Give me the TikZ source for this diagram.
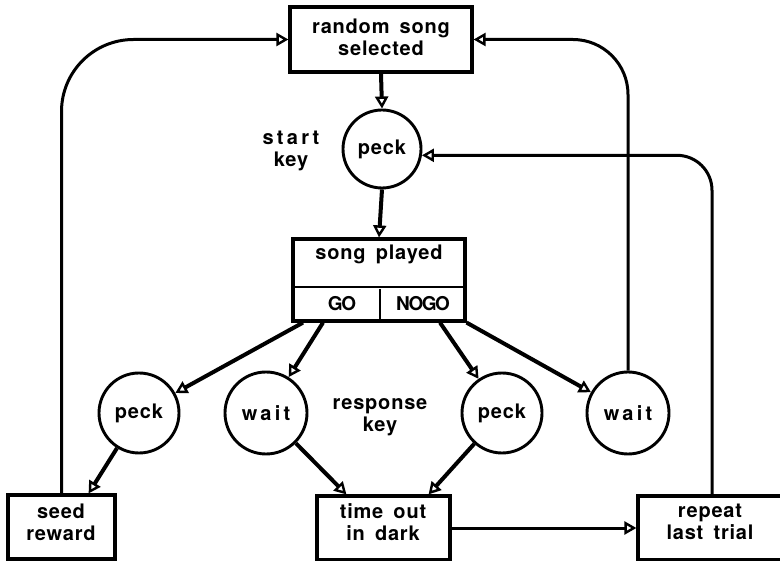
\documentclass[tikz,border=0pt]{standalone}
\usepackage{fontspec}
\setmainfont{TeX Gyre Heros}[LetterSpace=4,WordSpace=1.6]
\usetikzlibrary{arrows.meta,calc}
\newcommand\widelet{\addfontfeature{LetterSpace=16}}
\newcommand\tightlet{\addfontfeature{LetterSpace=-8}}
\begin{document}
\begin{tikzpicture}[x=1pt,y=-1pt,
  every node/.style={font=\bfseries\fontsize{20}{22}\selectfont, inner sep=0pt},
  box/.style={draw, line width=3.2pt, rectangle},
  state/.style={draw, circle, line width=2.9pt, minimum size=80pt},
  lbl/.style={align=center},
  small/.style={font=\bfseries\fontsize{19}{20}\selectfont\tightlet},
  tip/.style={-{Triangle[open,length=12pt,width=13pt,line width=2.4pt]}},
  flow/.style={tip, line width=4pt},
  back/.style={tip, line width=3pt},
]
\useasboundingbox (0,0) rectangle (780,561);

% top: song selection and start key
\node[box, minimum width=182pt, minimum height=65pt] (top) at (381,39.5) {};
\node[lbl] (toptxt) at (381,37) {random song\\selected};
\node[state, minimum size=78pt] (speck) at (382,149) {peck};
\node[lbl] (startkey) at (291,151) {{\widelet start}\\key};

% song played, split into GO / NOGO
\node[box, minimum width=172pt, minimum height=82pt] (song) at (379,280) {};
\draw[line width=2.6pt] ($(song.west)+(0,7)$) -- ($(song.east)+(0,7)$);
\draw[line width=2.6pt] ($(song.south)+(1,0)$) -- ++(0,-34);
\node (songtxt) at (379,254) {song played};
\node[small] (go) at (342,304) {GO};
\node[small] (nogo) at (423,304) {NOGO};

% responses on the response key
\node[state] (lpeck) at (139,413) {peck};
\node[state, minimum size=82pt] (lwait) at (266,413) {\widelet wait};
\node[state] (rpeck) at (502,413) {peck};
\node[state, minimum size=82pt] (rwait) at (628,413) {\widelet wait};
\node[lbl] (respkey) at (380,417) {response\\key};

% outcomes
\node[box, minimum width=107pt, minimum height=64pt] (seed) at (61.5,527) {};
\node[lbl] (seedtxt) at (61,522) {seed\\reward};
\node[box, minimum width=133pt, minimum height=64pt] (tout) at (383.5,528) {};
\node[lbl] (touttxt) at (383,522) {time out\\in dark};
\node[box, minimum width=144pt, minimum height=64pt] (rep) at (710,528) {};
\node[lbl] (reptxt) at (710,522) {repeat\\last trial};

% forward flow
\draw[flow] (top.south) -- (speck.north);
\draw[flow] (speck.south) -- (song.north);
\draw[flow] ($(song.south)+(-76,0)$) -- (lpeck);
\draw[flow] ($(song.south)+(-56,0)$) -- (lwait);
\draw[flow] ($(song.south)+(61,0)$) -- (rpeck);
\draw[flow] (song.south east) -- (rwait);
\draw[flow] (lpeck) -- ($(seed.north east)+(-28,0)$);
\draw[flow] (lwait) -- ($(tout.north west)+(31,0)$);
\draw[flow] (rpeck) -- ($(tout.north east)+(-23,0)$);
\draw[back] (tout.east) -- (rep.west);

% return paths
\draw[back, rounded corners=72pt] (seed.north) |- (top.west);
\draw[back, rounded corners=55pt] (rwait.north) |- (top.east);
\draw[back, rounded corners=35pt] ($(rep.north)+(2,0)$) |- (speck.-9);
\end{tikzpicture}
\end{document}
